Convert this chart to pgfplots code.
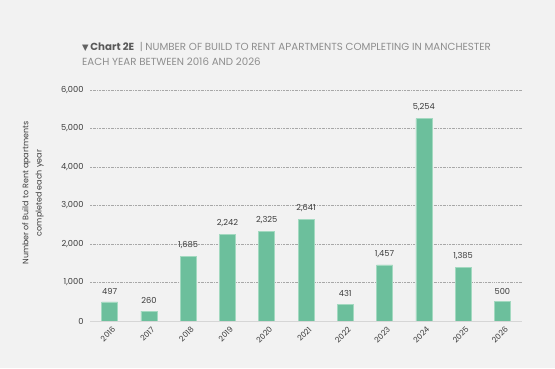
\documentclass[border=0pt]{standalone}
\usepackage{pgfplots}
\pgfplotsset{compat=1.18}
\usepackage{fontspec}
\setmainfont{Poppins}
\newfontfamily\symfont{DejaVu Sans}
\definecolor{bg}{HTML}{F2F2F2}
\definecolor{barc}{HTML}{6CBF9C}
\definecolor{bare}{HTML}{A3D9C0}
\definecolor{titleg}{HTML}{8E8E8E}
\definecolor{darkt}{HTML}{3C3C3C}
\definecolor{gridc}{HTML}{A8A8A8}
\begin{document}
\begin{tikzpicture}[x=1bp,y=1bp]
\fill[bg] (0,0) rectangle (555,-368);
\node[anchor=west,inner sep=0pt,font=\fontsize{10.3}{12}\selectfont] at (82,-47)
 {{\symfont\color{darkt!80}\fontsize{8.5}{10}\selectfont▼}\,\textcolor{darkt!85}{\textbf{Chart 2E}}\ \ \textcolor{titleg}{| NUMBER OF BUILD TO RENT APARTMENTS COMPLETING IN MANCHESTER}};
\node[anchor=west,inner sep=0pt,font=\fontsize{10.3}{12}\selectfont,text=titleg] at (82,-62)
 {EACH YEAR BETWEEN 2016 AND 2026};
\node[rotate=90,align=center,font=\fontsize{8}{13.5}\selectfont,text=darkt] at (33,-193)
 {Number of Build to Rent apartments\\completed each year};
\begin{axis}[
  at={(90bp,-321bp)}, anchor=south west,
  scale only axis, width=432bp, height=231bp,
  xmin=-0.5, xmax=10.5, ymin=0, ymax=6000,
  ybar, bar width=16bp,
  axis line style={draw=none},
  axis x line*=bottom,
  x axis line style={draw=none},
  ytick={0,1000,...,6000},
  xtick={0,...,10},
  xticklabels={2016,2017,2018,2019,2020,2021,2022,2023,2024,2025,2026},
  tick style={draw=none},
  ymajorgrids,
  grid style={gridc, dash pattern=on 2pt off 1pt on 0.5pt off 1pt, line width=0.5pt},
  yticklabel style={font=\fontsize{8.3}{10}\selectfont, text=darkt, xshift=-3bp},
  xticklabel style={font=\fontsize{7.8}{9}\selectfont, text=darkt, rotate=45, anchor=east, yshift=-5bp, xshift=2bp, inner sep=1pt},
  /pgf/number format/.cd, 1000 sep={,}, assume math mode=true,
  /pgfplots/.cd,
  nodes near coords,
  nodes near coords style={font=\fontsize{8.3}{10}\selectfont, text=darkt, yshift=4bp,
     /pgf/number format/.cd, 1000 sep={,}, assume math mode=true},
  clip=false,
]
\addplot[fill=barc, draw=bare, line width=0.6pt] coordinates {
(0,497) (1,260) (2,1685) (3,2242) (4,2325) (5,2641) (6,431) (7,1457) (8,5254) (9,1385) (10,500)};
\draw[draw=black!16, line width=0.8pt] (axis cs:-0.5,0) -- (axis cs:10.5,0);
\end{axis}
\end{tikzpicture}
\end{document}
